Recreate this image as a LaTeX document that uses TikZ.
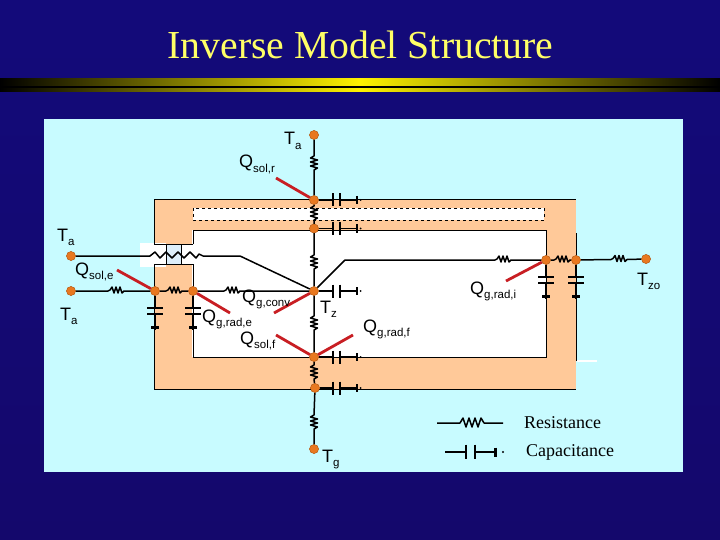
\documentclass[tikz,border=0pt]{standalone}
\usepackage{fontspec}
\setmainfont{Liberation Serif}
\setsansfont{Liberation Sans}
\definecolor{navy}{HTML}{130A7A}
\definecolor{navydark}{HTML}{14086C}
\definecolor{panelcol}{HTML}{C8FBFF}
\definecolor{bandcol}{HTML}{FFC999}
\definecolor{glazecol}{HTML}{DDEEFA}
\definecolor{nodecol}{HTML}{E87820}
\definecolor{redcol}{HTML}{C81E23}
\definecolor{titlecol}{HTML}{FFFF66}
\definecolor{barcol}{HTML}{FFF200}
\tikzset{
  wire/.style={line width=1.5pt,black,line join=round},
  outline/.style={line width=0.9pt,black},
  tnode/.style={circle,fill=nodecol,draw=nodecol!75!black,line width=0.3pt,minimum size=9pt,inner sep=0pt},
  heat/.style={line width=2.8pt,redcol},
  lab/.style={font=\sffamily\fontsize{18}{18}\selectfont,inner sep=0pt,anchor=base west,text=black},
  leg/.style={font=\rmfamily\fontsize{18}{18}\selectfont,inner sep=0pt,anchor=west,text=black},
}
\newcommand{\sub}[1]{\raisebox{-4.5pt}{\fontsize{11.5}{11.5}\selectfont #1}}
% horizontal resistor inline between two named nodes: from, to, centre x, centre y
\newcommand{\hlink}[4]{%
  \draw[wire] (#1) -- (#3-8,#4) -- ++(2,-1) -- ++(2,-3) -- ++(2,6) -- ++(2,-6) -- ++(2,6) -- ++(2,-6) -- ++(2,6) -- ++(2,-2) -- (#3+8,#4) -- (#2);}
% vertical resistor inline between two named nodes: from, to, centre x, centre y
\newcommand{\vlink}[4]{%
  \draw[wire] (#1) -- (#3,#4-7) -- ++(-3.5,2) -- ++(7,2) -- ++(-7,2) -- ++(7,2) -- ++(-7,2) -- ++(7,2) -- (#3,#4+7) -- (#2);}
% horizontal capacitor from a named node
\newcommand{\hcap}[2]{%
  \draw[wire] (#1) -- (333,#2) (340,#2) -- (357,#2);
  \draw[wire,line width=1.7pt] (333,#2-6.5) -- (333,#2+6.5) (340,#2-6.5) -- (340,#2+6.5);
  \draw[wire,line width=1.7pt] (357,#2-4) -- (357,#2+4);
  \fill (360.5,#2) circle (1);}
% vertical capacitor to ground under a named node
\newcommand{\vcap}[3]{%
  \draw[wire] (#1) -- (#2,#3+17) (#2,#3+23) -- (#2,#3+39);
  \draw[wire,line width=1.7pt] (#2-8,#3+17) -- (#2+8,#3+17) (#2-8,#3+23) -- (#2+8,#3+23);
  \draw[wire,line width=3pt] (#2-4,#3+36) -- (#2+4,#3+36);}
\begin{document}
\begin{tikzpicture}[x=1pt,y=-1pt]
\useasboundingbox (0,0) rectangle (720,540);
% background
\shade[top color=navy,bottom color=navydark] (0,0) rectangle (720,540);
% title bars
\shade[left color=black,middle color=barcol!72!black,right color=barcol] (0,79) rectangle (360,86);
\shade[left color=barcol,middle color=barcol!72!black,right color=black] (360,79) rectangle (720,86);
\shade[left color=black,middle color=barcol!72!black,right color=barcol] (0,88) rectangle (360,92);
\shade[left color=barcol,middle color=barcol!72!black,right color=black] (360,88) rectangle (720,92);
\fill[black] (0,86) rectangle (720,88);
\node[font=\rmfamily\fontsize{39.7}{40}\selectfont,text=titlecol,inner sep=0pt,anchor=base] (title) at (360.5,58.5) {Inverse Model Structure};
% panel
\fill[panelcol] (44,119) rectangle (683,472);
% envelope
\fill[bandcol] (154,199) rectangle (576,389);
\fill[white] (192,230) rectangle (546,357);
\fill[white] (193,208) rectangle (544,220);
\fill[white] (140,243) rectangle (166,267);
\fill[white] (166,244) rectangle (192,264);
\fill[glazecol] (166,244) rectangle (181,264);
\draw[outline] (154,244) |- (576,199);
\draw[outline] (154,264) |- (576,389);
\draw[outline] (193,244) -- (154,244);
\draw[outline] (193,264) -- (154,264);
\draw[outline] (193,244) |- (546,230) -- (546,357) -- (193,357) -- (193,264);
\draw[outline] (166,244) rectangle (181,264);
\draw[outline] (576,233) -- (576,361);
\draw[white,line width=1.2pt] (577,361) -- (597,361);
\draw[dashed,outline] (193,208) rectangle (544,220);
% thermal nodes
\node[tnode] (ta1) at (314,135) {};
\node[tnode] (rt) at (314,200) {};
\node[tnode] (rb) at (314,228.5) {};
\node[tnode] (tz) at (314,291) {};
\node[tnode] (ft) at (314,357) {};
\node[tnode] (fb) at (315,388) {};
\node[tnode] (tg) at (314,449) {};
\node[tnode] (ta2) at (71,256) {};
\node[tnode] (ta3) at (71,291) {};
\node[tnode] (ee) at (155,291) {};
\node[tnode] (ei) at (193,291) {};
\node[tnode] (wi) at (546,260) {};
\node[tnode] (we) at (576,260) {};
\node[tnode] (tzo) at (646,259) {};
\coordinate (bendA) at (240,256);
\coordinate (bendB) at (345,260);
% wires with resistors
\vlink{ta1}{rt}{314}{163}
\vlink{rt}{rb}{314}{213}
\vlink{rb}{tz}{314}{262}
\vlink{tz}{ft}{314}{323}
\vlink{ft}{fb}{314}{372}
\vlink{fb}{tg}{314}{422}
\hlink{ta3}{ee}{116}{291}
\hlink{ee}{ei}{174}{291}
\hlink{ei}{tz}{232}{291}
\hlink{bendB}{wi}{503}{260}
\hlink{wi}{we}{562}{260}
\hlink{we}{tzo}{619}{259.5}
\draw[wire] (tz) -- (bendB);
% window resistors
\draw[wire] (ta2) -- (150,256) -- (155,252) -- (160,258) -- (166,252) -- (172,258) -- (178,252) -- (184,258) -- (190,252) -- (196,258) -- (199,254) -- (203,256) -- (bendA) -- (tz);
% capacitors
\hcap{rt}{200}\hcap{rb}{228.5}\hcap{tz}{291}\hcap{ft}{357}\hcap{fb}{388}
\vcap{ee}{155}{291}\vcap{ei}{193}{291}\vcap{wi}{546}{260}\vcap{we}{576}{260}
% heat flows
\draw[heat] (276,178) -- (rt);
\draw[heat] (117,270) -- (ee);
\draw[heat] (230,313) -- (ei);
\draw[heat] (274,313) -- (tz);
\draw[heat] (276,335) -- (ft);
\draw[heat] (353,335) -- (ft);
\draw[heat] (506,281) -- (wi);
\foreach \n in {ta1,rt,rb,tz,ft,fb,tg,ta2,ta3,ee,ei,wi,we,tzo}{\node[tnode] at (\n) {};}
% labels
\node[lab] (l1) at (284,145) {T\sub{a}};
\node[lab] (l2) at (239,168) {Q\sub{sol,r}};
\node[lab] (l3) at (57,241) {T\sub{a}};
\node[lab] (l4) at (75,275) {Q\sub{sol,e}};
\node[lab] (l5) at (60,320) {T\sub{a}};
\node[lab] (l6) at (242,302) {Q\sub{g,conv}};
\node[lab] (l7) at (202,322) {Q\sub{g,rad,e}};
\node[lab] (l8) at (240,344) {Q\sub{sol,f}};
\node[lab] (l9) at (320,313) {T\sub{z}};
\node[lab] (l10) at (363,332) {Q\sub{g,rad,f}};
\node[lab] (l11) at (470,294) {Q\sub{g,rad,i}};
\node[lab] (l12) at (637,285) {T\sub{zo}};
\node[lab] (l13) at (322,462) {T\sub{g}};
% legend
\coordinate (r1) at (437,423);\coordinate (r2) at (503,423);
\draw[wire] (r1) -- (460,423) -- (463,418) -- (466,427) -- (469,418) -- (472,427) -- (475,418) -- (478,427) -- (481,418) -- (484,423) -- (r2);
\node[leg] (resl) at (524,423) {Resistance};
\coordinate (c1) at (445,452);\coordinate (c2) at (496,452);
\draw[wire] (c1) -- (466,452) (475,452) -- (c2);
\draw[wire,line width=1.7pt] (466,444.5) -- (466,458.5) (475,444.5) -- (475,458.5);
\draw[wire,line width=2.8pt] (495.5,447.5) -- (495.5,456.5);
\fill (503,452) circle (1.1);
\node[leg] (capl) at (526,452) {Capacitance};
\end{tikzpicture}
\end{document}
